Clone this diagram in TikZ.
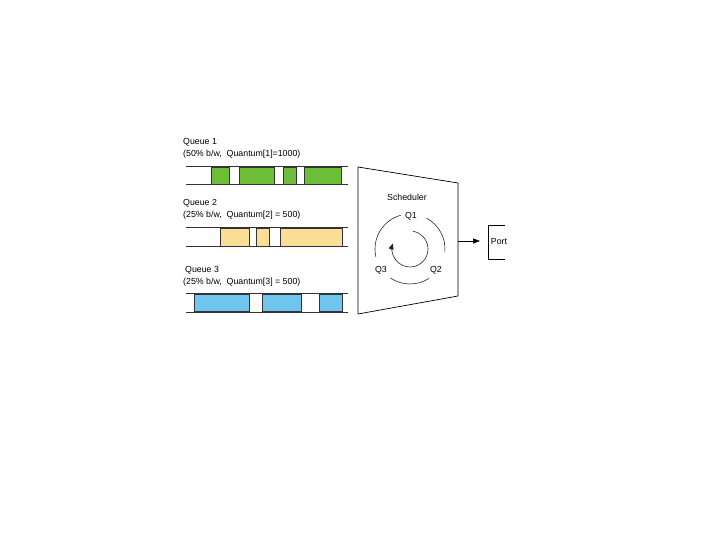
\documentclass[tikz,border=0pt]{standalone}
\usepackage{fontspec}
\setmainfont{Liberation Sans}
\usetikzlibrary{arrows.meta}
\definecolor{qgreen}{RGB}{108,190,56}
\definecolor{qyellow}{RGB}{250,222,150}
\definecolor{qblue}{RGB}{112,196,240}
\begin{document}
\begin{tikzpicture}[x=1pt,y=-1pt,
  lbl/.style={font=\fontsize{8.8}{10}\selectfont, inner sep=0pt, anchor=west},
  rail/.style={line width=0.6pt, black!80},
  pkt/.style={draw=black!80, line width=0.6pt},
  arc/.style={line width=0.6pt, black!85}]
\useasboundingbox (0,0) rectangle (720,540);
% Queue 1
\node[lbl] (q1t) at (183,142) {Queue 1};
\node[lbl] (q1s) at (183,154) {(50\% b/w,\ \ Quantum[1]=1000)};
\draw[rail] (186,166) -- (348,166) (186,184) -- (348,184);
\foreach \a/\b in {211/229,239/274,283/296,304/341}
  \draw[pkt, fill=qgreen] (\a,167) rectangle (\b,184);
% Queue 2
\node[lbl] (q2t) at (183,203) {Queue 2};
\node[lbl] (q2s) at (183,215) {(25\% b/w,\ \ Quantum[2] = 500)};
\draw[rail] (186,227) -- (348,227) (186,246) -- (348,246);
\foreach \a/\b in {220/249,256/269,280/342}
  \draw[pkt, fill=qyellow] (\a,228) rectangle (\b,246);
% Queue 3
\node[lbl] (q3t) at (185,270) {Queue 3};
\node[lbl] (q3s) at (183,282) {(25\% b/w,\ \ Quantum[3] = 500)};
\draw[rail] (186,293) -- (348,293) (186,312) -- (348,312);
\foreach \a/\b in {194/249,262/301,319/342}
  \draw[pkt, fill=qblue] (\a,294) rectangle (\b,311);
% Scheduler
\draw[line width=0.7pt] (358,167) -- (458,183) -- (458,296) -- (358,314) -- cycle;
\node[lbl, anchor=center] (sch) at (407,197) {Scheduler};
\node[lbl, anchor=center] (Q1) at (411,216) {Q1};
\node[lbl, anchor=center] (Q2) at (436,270) {Q2};
\node[lbl, anchor=center] (Q3) at (381,270) {Q3};
\coordinate (c) at (410,249);
\draw[arc] ([shift={(-105:35)}]c) arc[start angle=-105, end angle=-193, radius=35];
\draw[arc] ([shift={(-62:35)}]c) arc[start angle=-62, end angle=5, radius=35];
\draw[arc] ([shift={(57:35)}]c) arc[start angle=57, end angle=124, radius=35];
\draw[arc, -{Triangle[length=6pt,width=5pt]}] ([shift={(-80:18)}]c) arc[start angle=-80, end angle=198, radius=18];
% Port
\coordinate (sout) at (458,241);
\draw[line width=0.7pt] (505,225) -- (488,225) -- (488,259) -- (505,259);
\node[lbl, anchor=center] (port) at (499,242) {Port};
\draw[line width=0.7pt, -{Triangle[length=7pt,width=5pt]}] (sout) -- (480,241);
\end{tikzpicture}
\end{document}
